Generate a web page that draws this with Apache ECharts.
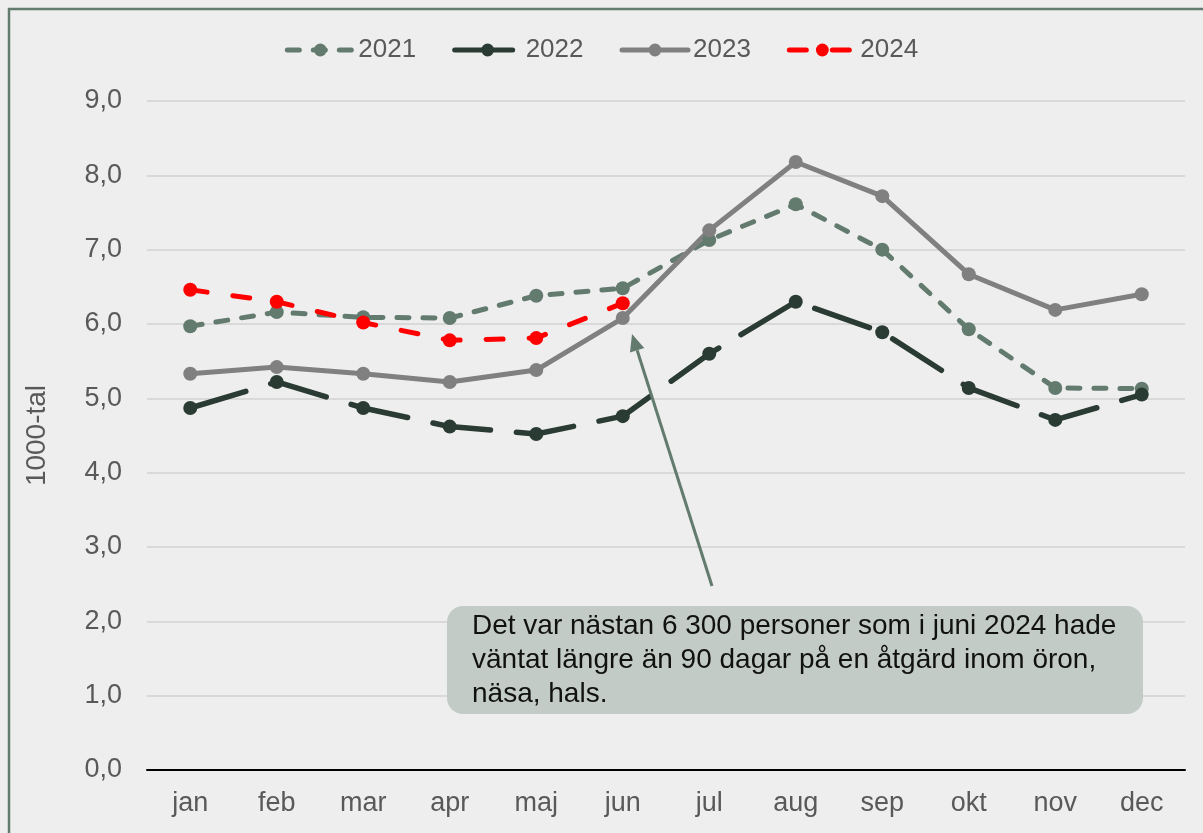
<!DOCTYPE html>
<html>
<head>
<meta charset="utf-8">
<script src="https://cdn.jsdelivr.net/npm/echarts@6.0.0/dist/echarts.min.js"></script>
<style>
  html, body { margin: 0; padding: 0; background: #eeeeee; overflow: hidden; }
  #main { width: 1203px; height: 833px; }
</style>
</head>
<body>
<div id="main"></div>
<script>
// data (1000-tal)
var months = ['jan', 'feb', 'mar', 'apr', 'maj', 'jun', 'jul', 'aug', 'sep', 'okt', 'nov', 'dec'];
var y2021 = [5.97, 6.16, 6.09, 6.08, 6.38, 6.48, 7.13, 7.61, 7.00, 5.93, 5.14, 5.13];
var y2022 = [4.87, 5.22, 4.87, 4.62, 4.52, 4.76, 5.60, 6.30, 5.89, 5.14, 4.71, 5.05];
var y2023 = [5.33, 5.42, 5.33, 5.22, 5.38, 6.08, 7.26, 8.18, 7.72, 6.67, 6.19, 6.40];
var y2024 = [6.46, 6.30, 6.02, 5.78, 5.81, 6.28];
var yTicks = [0, 1, 2, 3, 4, 5, 6, 7, 8, 9];
var note = 'Det var nästan 6 300 personer som i juni 2024 hade\nväntat längre än 90 dagar på en åtgärd inom öron,\nnäsa, hals.';

var font = '"Liberation Sans", Arial, sans-serif';
var textGrey = '#595959';
var frameColor = '#637b6f';

var chart = echarts.init(document.getElementById('main'));

function lineSeries(name, data, color, width, dash) {
  return {
    name: name,
    type: 'line',
    data: data,
    symbol: 'circle',
    symbolSize: 14,
    itemStyle: { color: color },
    lineStyle: { color: color, width: width, type: dash, cap: 'round' },
    emphasis: { disabled: true },
    animation: false
  };
}

// arrow from the note up to the june 2024 point
var tail = [712, 586], tip = [632, 334];
var dx = tip[0] - tail[0], dy = tip[1] - tail[1];
var len = Math.sqrt(dx * dx + dy * dy);
var ux = dx / len, uy = dy / len;
var hl = 17, hw = 7.5;
var bx = tip[0] - ux * hl, by = tip[1] - uy * hl;

var option = {
  backgroundColor: '#eeeeee',
  textStyle: { fontFamily: font },
  legend: {
    top: 32,
    left: 'center',
    itemWidth: 66,
    itemHeight: 16,
    itemGap: 36,
    lineStyle: { width: 5 },
    textStyle: { fontSize: 26, color: textGrey, fontFamily: font },
    data: ['2021', '2022', '2023', '2024']
  },
  grid: { left: 147, right: 18, top: 101, bottom: 63 },
  xAxis: {
    type: 'category',
    data: months,
    boundaryGap: true,
    axisLine: { lineStyle: { color: '#000', width: 2 } },
    axisTick: { show: false },
    axisLabel: { fontSize: 27, color: textGrey, margin: 20, fontFamily: font }
  },
  yAxis: {
    type: 'value',
    min: yTicks[0],
    max: yTicks[yTicks.length - 1],
    interval: 1,
    name: '1000-tal',
    nameLocation: 'middle',
    nameGap: 96,
    nameTextStyle: { fontSize: 28, color: textGrey, fontFamily: font },
    axisLine: { show: false },
    axisTick: { show: false },
    splitLine: { lineStyle: { color: '#d9d9d9', width: 2 } },
    axisLabel: {
      fontSize: 27, color: textGrey, margin: 25, fontFamily: font,
      formatter: function (v) { return v.toFixed(1).replace('.', ','); }
    }
  },
  series: [
    lineSeries('2021', y2021, '#637b6f', 5, [12, 14]),
    lineSeries('2022', y2022, '#2a3b33', 5.5, [58, 26]),
    lineSeries('2023', y2023, '#808080', 5, 'solid'),
    lineSeries('2024', y2024, '#ff0000', 5, [17, 26])
  ],
  graphic: [
    // frame: only the top and left edges are inside the picture
    { type: 'polyline', shape: { points: [[9, 840], [9, 9], [1203, 9]] },
      style: { stroke: frameColor, lineWidth: 2.5, fill: null }, z: 100 },
    { type: 'line', shape: { x1: tail[0], y1: tail[1], x2: bx, y2: by },
      style: { stroke: frameColor, lineWidth: 3 }, z: 50 },
    { type: 'polygon',
      shape: { points: [tip, [bx + uy * hw, by - ux * hw], [bx - uy * hw, by + ux * hw]] },
      style: { fill: frameColor }, z: 50 },
    { type: 'rect', shape: { x: 447, y: 606, width: 696, height: 108, r: 16 },
      style: { fill: '#c2cbc6' }, z: 50 },
    { type: 'text', x: 472, y: 609, z: 51,
      style: { text: note, font: '28px ' + font, fill: '#111', lineHeight: 34 } }
  ]
};

chart.setOption(option);
</script>
</body>
</html>
